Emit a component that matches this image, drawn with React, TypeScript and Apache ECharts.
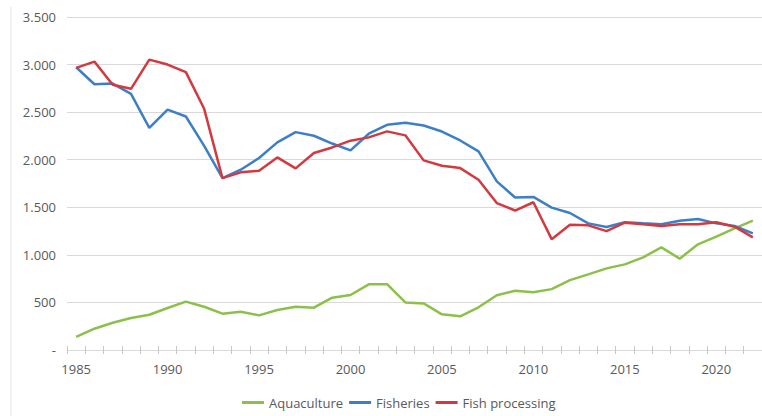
import React, { useEffect, useRef } from "react";
import * as echarts from "echarts";

const years: string[] = [];
for (let y = 1985; y <= 2022; y++) years.push(String(y));

const aquaculture = [
  137, 224, 287, 336, 371, 441, 508, 455, 382, 403, 364, 420, 455, 445, 550, 578, 690, 692, 500,
  490, 375, 354, 449, 575, 623, 606, 640, 735, 795, 858, 900, 974, 1079, 960, 1111, 1191, 1279,
  1359,
];

const fisheries = [
  2972, 2793, 2800, 2692, 2335, 2527, 2454, 2145, 1806, 1895, 2018, 2182, 2290, 2252, 2170, 2098,
  2273, 2367, 2388, 2360, 2296, 2202, 2087, 1773, 1603, 1609, 1496, 1440, 1331, 1292, 1342, 1331,
  1321, 1359, 1377, 1331, 1303, 1226,
];

const fishProcessing = [
  2965, 3031, 2787, 2745, 3052, 3000, 2920, 2535, 1806, 1867, 1884, 2024, 1909, 2070, 2129, 2200,
  2235, 2298, 2256, 1993, 1937, 1912, 1789, 1544, 1466, 1553, 1165, 1317, 1310, 1250, 1338, 1321,
  1303, 1321, 1321, 1342, 1296, 1184,
];

const seriesNames = ["Aquaculture", "Fisheries", "Fish processing"];
const colors = ["#8cc04b", "#3d7fc6", "#d23a40"];

const FONT = "'Open Sans', 'Noto Sans', sans-serif";
const TEXT = "#595959";
const GRID = "#d9d9d9";

function formatThousands(v: number): string {
  if (v === 0) return "-";
  return String(v).replace(/\B(?=(\d{3})+(?!\d))/g, ".");
}

export default function App() {
  const ref = useRef<HTMLDivElement>(null);

  useEffect(() => {
    if (!ref.current) return;
    const chart = echarts.init(ref.current, null, { renderer: "svg" });
    const line = (name: string, data: number[], color: string) => ({
      name,
      type: "line",
      data,
      xAxisIndex: 0,
      symbol: "none",
      lineStyle: { color, width: 2.5 },
      itemStyle: { color },
    });
    chart.setOption({
      animation: false,
      textStyle: { fontFamily: FONT },
      grid: { left: 67, right: 0, top: 17, bottom: 66, containLabel: false },
      xAxis: [
        {
          type: "category",
          data: years,
          boundaryGap: true,
          axisLine: { lineStyle: { color: GRID, width: 1 } },
          axisTick: { show: true, interval: 0, length: 4, lineStyle: { color: "#c8c8c8" } },
          axisLabel: {
            interval: 4,
            color: TEXT,
            fontSize: 13,
            fontFamily: FONT,
            margin: 12,
          },
          splitLine: { show: false },
        },
        {
          // inward half of the cross-shaped year ticks
          type: "category",
          data: years,
          boundaryGap: true,
          position: "bottom",
          axisLine: { show: false },
          axisTick: { show: true, inside: true, interval: 0, length: 4, lineStyle: { color: "#c8c8c8" } },
          axisLabel: { show: false },
          splitLine: { show: false },
        },
      ],
      yAxis: {
        type: "value",
        min: 0,
        max: 3500,
        interval: 500,
        axisLine: { show: false },
        axisTick: { show: false },
        axisLabel: {
          color: TEXT,
          fontSize: 13,
          fontFamily: FONT,
          margin: 11,
          formatter: (v: number) => formatThousands(v),
        },
        splitLine: { lineStyle: { color: GRID, width: 1 } },
      },
      legend: {
        data: seriesNames,
        left: 237,
        top: 391,
        icon: "rect",
        itemWidth: 22,
        itemHeight: 3,
        itemGap: 6,
        textStyle: { color: TEXT, fontSize: 13, fontFamily: FONT },
      },
      graphic: [
        {
          type: "line",
          shape: { x1: 11, y1: 7, x2: 11, y2: 416 },
          style: { stroke: "#e3e3e3", lineWidth: 1 },
          silent: true,
        },
      ],
      series: [
        line(seriesNames[0], aquaculture, colors[0]),
        line(seriesNames[1], fisheries, colors[1]),
        line(seriesNames[2], fishProcessing, colors[2]),
      ],
    });
    return () => chart.dispose();
  }, []);

  return (
    <div
      ref={ref}
      style={{ position: "fixed", left: 0, top: 0, width: 762, height: 416, background: "#ffffff" }}
    />
  );
}
